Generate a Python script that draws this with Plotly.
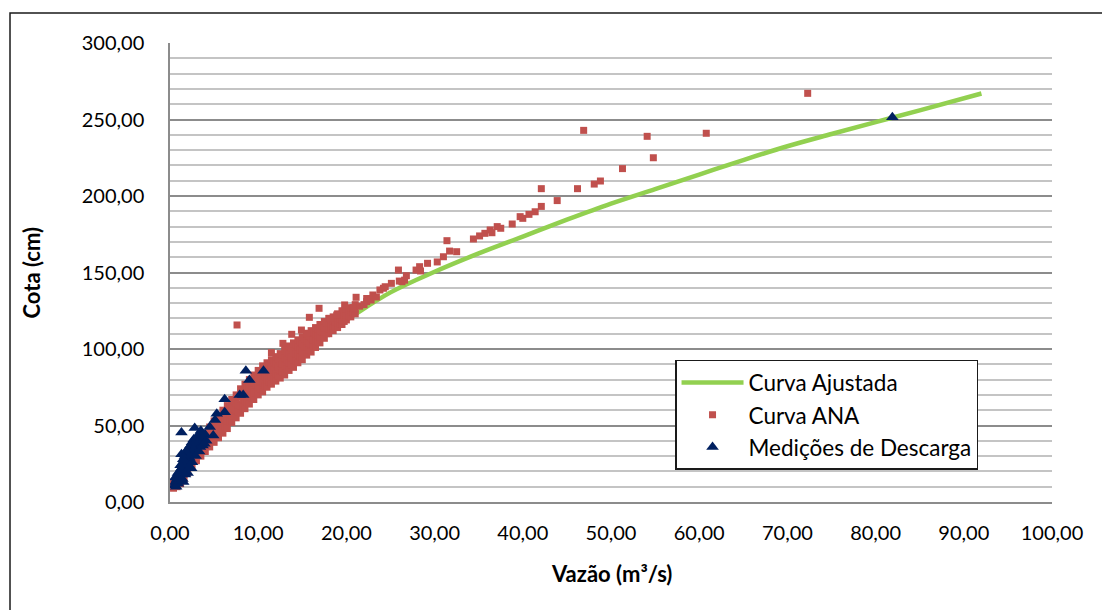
import plotly.graph_objects as go

# Curva Ajustada (fitted rating curve): discharge (m3/s) vs stage (cm)
green_x = [0.4, 1, 2, 3, 5, 7, 10, 13, 16, 18, 20, 25, 30, 35, 40, 45, 50, 55, 60, 65, 70, 75, 80, 85, 92]
green_y = [11, 17, 26, 34, 47, 59, 75, 90, 103.5, 112, 119, 137, 150.5, 162.5, 173.5, 184.5, 195, 204.5, 214, 223.5, 232.5, 240.5, 248.3, 256, 267]

# Curva ANA points
red_x = [
    0.4, 0.4, 0.4, 0.6, 0.6, 0.8, 0.8, 0.8, 1.0, 1.0, 1.2, 1.2, 1.2,
    1.4, 1.4, 1.6, 1.6, 1.6, 1.8, 1.8, 2.0, 2.0, 2.0, 2.25, 2.25,
    2.5, 2.5, 2.5, 2.75, 2.75, 3.0, 3.0, 3.0, 3.25, 3.25,
    3.5, 3.5, 3.5, 3.75, 3.75,
    4.0, 4.0, 4.0, 4.0, 4.25, 4.25, 4.25, 4.5, 4.5, 4.5, 4.5, 4.75, 4.75, 4.75,
    5.0, 5.0, 5.0, 5.0, 5.25, 5.25, 5.25, 5.5, 5.5, 5.5, 5.5, 5.75, 5.75, 5.75,
    6.0, 6.0, 6.0, 6.0, 6.25, 6.25, 6.25, 6.5, 6.5, 6.5, 6.5, 6.75, 6.75, 6.75,
    7.0, 7.0, 7.0, 7.0, 7.25, 7.25, 7.25, 7.5, 7.5, 7.5, 7.5, 7.75, 7.75, 7.75,
    8.0, 8.0, 8.0, 8.0, 8.25, 8.25, 8.25, 8.5, 8.5, 8.5, 8.5, 8.75, 8.75, 8.75,
    9.0, 9.0, 9.0, 9.0, 9.25, 9.25, 9.25, 9.5, 9.5, 9.5, 9.5, 9.75, 9.75, 9.75,
    10.0, 10.0, 10.0, 10.0, 10.25, 10.25, 10.25, 10.5, 10.5, 10.5, 10.5, 10.75, 10.75, 10.75,
    11.0, 11.0, 11.0, 11.0, 11.25, 11.25, 11.25, 11.5, 11.5, 11.5, 11.5, 11.75, 11.75, 11.75,
    12.0, 12.0, 12.0, 12.0, 12.25, 12.25, 12.25, 12.5, 12.5, 12.5, 12.5, 12.75, 12.75, 12.75,
    13.0, 13.0, 13.0, 13.0, 13.25, 13.25, 13.25, 13.5, 13.5, 13.5, 13.5, 13.75, 13.75, 13.75,
    14.0, 14.0, 14.0, 14.0, 14.25, 14.25, 14.25, 14.5, 14.5, 14.5, 14.5, 14.75, 14.75, 14.75,
    15.0, 15.0, 15.0, 15.0, 15.25, 15.25, 15.25, 15.5, 15.5, 15.5, 15.5, 15.75, 15.75, 15.75,
    16.0, 16.0, 16.0, 16.0, 16.25, 16.25, 16.25, 16.5, 16.5, 16.5, 16.5, 16.75, 16.75, 16.75,
    17.0, 17.0, 17.0, 17.0, 17.25, 17.25, 17.25, 17.5, 17.5, 17.5, 17.5, 17.75, 17.75, 17.75,
    18.0, 18.0, 18.0, 18.0, 18.25, 18.25, 18.25, 18.5, 18.5, 18.5, 18.5, 18.75, 18.75, 18.75,
    19.0, 19.0, 19.0, 19.0, 19.25, 19.25, 19.25, 19.5, 19.5, 19.5, 19.5, 19.75, 19.75, 19.75,
    20.0, 20.0, 20.0, 20.25, 20.25, 20.5, 20.5, 20.5, 20.75, 20.75, 21.0, 21.0, 21.0,
    7.6, 11.5, 12.8, 13.8, 14.9, 15.5, 15.8, 16.9, 18.1, 18.9, 19.8, 20.9,
    21.1, 21.5, 22.0, 22.3, 22.3, 22.8, 23.0, 23.4, 23.8, 24.2, 24.4, 25.1,
    25.9, 26.0, 26.3, 26.6, 26.8, 27.9, 28.3, 28.4, 29.2, 30.3, 31.0, 31.4,
    31.7, 32.5, 34.4, 35.1, 35.7, 36.3, 36.5, 37.1, 37.5, 38.8, 39.7, 40.0,
    40.7, 41.4, 42.1, 42.1, 43.9, 46.2, 46.9, 48.1, 48.8, 51.3, 54.1, 54.8,
    60.8, 72.3,
]
red_y = [
    9, 11, 13, 11, 13, 10, 13, 16, 13, 16, 12, 16, 20,
    16, 20, 15, 20, 25, 19.5, 24.5, 19, 24, 29, 23.5, 28.5,
    23, 28, 33, 27.5, 32.5, 27, 32, 37, 31, 36,
    30, 35, 41, 35, 39,
    33, 37, 41, 45, 36.5, 41, 45, 36, 40, 45, 49, 40, 44, 49,
    39, 44, 48, 53, 43, 47.5, 52, 42, 47, 51, 56, 46, 51, 55.5,
    45, 50, 55, 60, 49, 54, 59, 48, 53, 58, 63, 52.5, 57.5, 62.5,
    52, 57, 62, 67, 56, 61, 66, 55, 60, 65, 70, 59, 64, 69.5,
    58, 63, 69, 74, 62, 67.5, 73, 61, 66, 72, 77, 65, 70.5, 76,
    64, 69, 75, 80, 68, 73.5, 79, 67, 72, 78, 83, 71, 76.5, 82,
    70, 75, 81, 86, 74, 79, 85, 72, 78, 83, 89, 76, 82, 87,
    75, 80, 86, 91, 78.5, 84, 89.5, 77, 82, 88, 93, 80.5, 86, 91.5,
    79, 84, 90, 95, 82.5, 88, 93.5, 81, 86, 92, 97, 85, 90, 96,
    83, 89, 94, 100, 87, 93, 98, 86, 91, 97, 102, 89.5, 95, 100.5,
    88, 93, 99, 104, 92, 97, 102.5, 91, 96, 101, 106, 94.5, 99.5, 104.5,
    93, 98, 103, 108, 97, 102, 106.5, 96, 101, 105, 110, 99.5, 104, 108.5,
    98, 103, 107, 112, 102, 106, 111, 101, 105, 110, 114, 104.5, 109, 113,
    104, 108, 112, 116, 107.5, 111, 115, 107, 111, 114, 118, 110, 114, 117,
    110, 113, 117, 120, 112.5, 116, 119, 112, 115, 118, 121, 114.5, 117.5, 120.5,
    114, 117, 120, 123, 116.5, 119.5, 122.5, 116, 119, 122, 125, 118, 121, 124.5,
    119, 122, 126, 121.5, 125, 121, 124, 127, 123.5, 127, 123, 126, 129,
    115.7, 97.6, 103.7, 109.6, 112.4, 110.3, 120.7, 126.6, 120.0, 122.2, 128.8, 126.6,
    133.8, 128.0, 129.0, 131.0, 133.0, 132.0, 135.3, 134.0, 138.6, 139.7, 140.7, 142.9,
    151.6, 144.4, 144.0, 145.0, 147.9, 151.6, 153.8, 151.0, 156.0, 156.9, 160.3, 170.8,
    164.0, 163.6, 171.9, 173.9, 175.6, 177.8, 176.0, 180.0, 178.9, 181.7, 186.5, 185.4,
    188.0, 189.7, 193.2, 204.8, 197.0, 204.8, 242.9, 207.8, 209.8, 217.9, 239.0, 225.0,
    241.0, 267.1,
]

# Medições de Descarga (field discharge measurements)
blue_x = [
    0.5, 0.6, 0.7, 0.8, 0.9, 1.0, 1.0, 1.1, 1.2, 1.3, 1.3, 1.4, 1.5, 1.5,
    1.6, 1.6, 1.7, 1.8, 1.9, 2.0, 2.0, 2.1, 2.2, 2.3, 2.4, 2.4, 2.5, 2.6,
    2.7, 2.8, 2.9, 3.0, 3.1, 3.2, 3.3, 3.4, 3.5, 3.6, 3.8, 3.9, 4.0,
    0.6, 0.9, 1.2, 1.5, 1.8, 1.4, 1.7, 2.1, 2.5, 2.9, 3.3, 3.7, 4.1, 3.5,
    1.3, 2.8, 1.3, 4.5, 4.9, 5.1, 5.3, 6.2, 6.2, 7.9, 8.3, 9.0, 8.6, 10.6,
    81.9,
]
blue_y = [
    11, 13, 10, 15, 12, 17, 14, 20, 16, 22, 18, 25, 20, 13,
    27, 22, 30, 24, 32, 27, 19, 35, 29, 37, 31, 22, 39, 33,
    41, 35, 40, 37, 43, 39, 44, 36, 42, 45, 41, 38, 44,
    16, 19, 24, 28, 33, 15, 18, 22, 26, 30, 33, 37, 40, 46.5,
    45.5, 48.4, 31.2, 49.0, 43.4, 53.6, 57.7, 58.7, 67.1, 69.9, 69.9, 79.7, 85.8, 85.8,
    251.4,
]

FONT = "Lato"

fig = go.Figure()
fig.add_trace(go.Scatter(
    x=green_x, y=green_y, mode="lines", name="Curva Ajustada",
    line=dict(color="#92D050", width=4.5, shape="spline"),
    legendgroup="a",
))
fig.add_trace(go.Scatter(
    x=red_x, y=red_y, mode="markers", name="Curva ANA",
    marker=dict(symbol="square", size=7, color="#C0504D"),
    legendgroup="b",
))
fig.add_trace(go.Scatter(
    x=blue_x, y=blue_y, mode="markers", name="Medições de Descarga",
    marker=dict(symbol="triangle-up", size=11, color="#002060"),
    legendgroup="c",
))

# outer chart frame (only its top-left corner falls inside the page)
fig.add_shape(type="rect", xref="paper", yref="paper",
              x0=-0.1814, x1=1.3, y0=-0.6, y1=1.0654,
              line=dict(color="#1a1a1a", width=1.5), layer="below")

fig.add_annotation(text="<b>Vazão (m³/s)</b>", xref="paper", yref="paper",
                   x=0.5, y=-0.1547, xanchor="center", yanchor="middle",
                   showarrow=False, font=dict(family=FONT, size=22, color="black"))
fig.add_annotation(text="<b>Cota (cm)</b>", xref="paper", yref="paper",
                   x=-0.1565, y=0.5, xanchor="center", yanchor="middle",
                   textangle=-90, showarrow=False,
                   font=dict(family=FONT, size=22, color="black"))

fig.update_layout(
    width=1102, height=610,
    margin=dict(l=170, r=50, t=43, b=108),
    paper_bgcolor="white", plot_bgcolor="white",
    separators=",.",
    font=dict(family=FONT, size=20, color="black"),
    showlegend=True,
    legend=dict(
        x=0.5726, y=0.3094, xanchor="left", yanchor="top",
        bgcolor="white", bordercolor="#1a1a1a", borderwidth=1.5,
        font=dict(family=FONT, size=22.5, color="black"),
        tracegroupgap=0, itemwidth=62,
    ),
    xaxis=dict(
        range=[0, 100], dtick=10, tick0=0, tickformat=".2f",
        showgrid=False, zeroline=False,
        showline=True, linecolor="#8C8C8C", linewidth=1.5,
        ticks="", ticklabelstandoff=12,
    ),
    yaxis=dict(
        range=[0, 300], dtick=50, tick0=0, tickformat=".2f",
        showgrid=True, gridcolor="#8C8C8C", gridwidth=1.5,
        zeroline=False,
        showline=True, linecolor="#8C8C8C", linewidth=1.5,
        ticks="", ticklabelstandoff=20,
        minor=dict(dtick=10, showgrid=True, gridcolor="#C4C4C4", gridwidth=1.5),
    ),
)

fig.write_html("out.html")
